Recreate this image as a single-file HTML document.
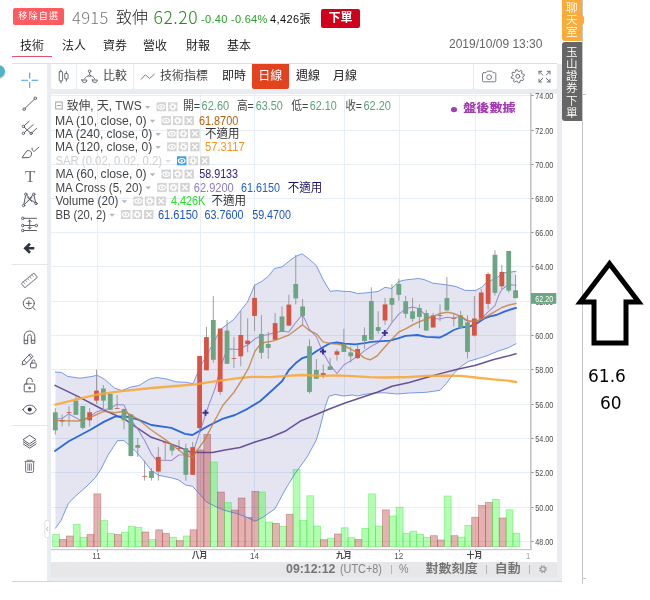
<!DOCTYPE html>
<html lang="zh-Hant"><head><meta charset="utf-8"><title>4915 致伸</title>
<style>
*{box-sizing:border-box;margin:0;padding:0}
html,body{width:650px;height:600px;background:#fff;overflow:hidden}
body{position:relative;font-family:"Liberation Sans","Noto Sans CJK TC",sans-serif;color:#333}
.abs{position:absolute;white-space:nowrap}
#root{position:absolute;left:0;top:0;width:650px;height:600px;overflow:hidden;will-change:transform;transform:translateZ(0)}
</style></head>
<body>
<div id="root">
<div class="abs" style="left:12.5px;top:8px;width:51px;height:16.5px;background:#ff5b60;border-radius:2px;color:#fff;font-size:9px;line-height:16.5px;text-align:center;letter-spacing:1.2px;padding-left:1.5px">移除自選</div>
<div class="abs" style="left:72px;top:4.5px;font-family:Noto Sans CJK TC,sans-serif;font-weight:300;font-size:16.5px;line-height:24px;color:#777;letter-spacing:0.35px">4915</div>
<div class="abs" style="left:116px;top:5.5px;font-size:16px;font-weight:300;line-height:24px;color:#222;">致伸</div>
<div class="abs" style="left:153.5px;top:4.5px;font-family:Noto Sans CJK TC,sans-serif;font-weight:300;font-size:17.5px;line-height:24px;color:#238a1a;letter-spacing:0.55px;">62.20</div>
<div class="abs" style="left:201px;top:11px;font-size:11px;line-height:16px;color:#2a9d2a;letter-spacing:0.3px;">-0.40 -0.64%</div>
<div class="abs" style="left:270px;top:11px;font-size:11px;line-height:16px;color:#111;letter-spacing:0.4px;">4,426張</div>
<div class="abs" style="left:321px;top:9px;width:39px;height:19px;background:#d0021b;border-radius:2px;color:#fff;font-size:12px;font-weight:bold;line-height:19px;text-align:center;">下單</div>
<div class="abs" style="left:20px;top:37px;font-size:12px;font-weight:350;line-height:18px;color:#111;">技術</div>
<div class="abs" style="left:62px;top:37px;font-size:12px;font-weight:350;line-height:18px;color:#111;">法人</div>
<div class="abs" style="left:103px;top:37px;font-size:12px;font-weight:350;line-height:18px;color:#111;">資券</div>
<div class="abs" style="left:143px;top:37px;font-size:12px;font-weight:350;line-height:18px;color:#111;">營收</div>
<div class="abs" style="left:186px;top:37px;font-size:12px;font-weight:350;line-height:18px;color:#111;">財報</div>
<div class="abs" style="left:227px;top:37px;font-size:12px;font-weight:350;line-height:18px;color:#111;">基本</div>
<div class="abs" style="left:12px;top:56px;width:40.3px;height:1.2px;background:#e4506a"></div>
<div class="abs" style="left:449px;top:36px;font-size:12px;line-height:16px;color:#666;">2019/10/09 13:30</div>
<div class="abs" style="left:12px;top:63px;width:545px;height:1px;background:#dcdfe3"></div>
<div class="abs" style="left:-8px;top:65px;width:13px;height:13px;border-radius:6.5px;background:#4fb3c4;box-shadow:0 1px 2px rgba(0,0,0,0.2)"></div>
<div class="abs" style="left:47px;top:64px;width:514.6px;height:517px;background:#e9edf2"></div>
<div class="abs" style="left:12px;top:581px;width:550px;height:1px;background:#d6d6d6"></div>
<div class="abs" style="left:51px;top:64px;width:25.2px;height:24.8px;background:#fff;border-radius:0 0 2px 2px"></div>
<div class="abs" style="left:77.2px;top:64px;width:55.8px;height:24.8px;background:#fff;border-radius:0 0 2px 2px"></div>
<div class="abs" style="left:134px;top:64px;width:338.6px;height:24.8px;background:#fff;border-radius:0 0 2px 2px"></div>
<div class="abs" style="left:473.6px;top:64px;width:83.4px;height:24.8px;background:#fff;border-radius:0 0 2px 2px"></div>
<div class="abs" style="left:103px;font-size:12px;line-height:24px;color:#444;top:64px;">比較</div>
<div class="abs" style="left:160px;font-size:12px;line-height:24px;color:#444;top:64px;">技術指標</div>
<div class="abs" style="left:222px;font-size:12px;line-height:24px;color:#444;top:64px;color:#222">即時</div>
<div class="abs" style="left:252px;top:64px;width:36.5px;height:24.5px;background:#e2431e;color:#fff;font-size:12px;line-height:24px;text-align:center;border-radius:0 0 2px 2px">日線</div>
<div class="abs" style="left:296px;font-size:12px;line-height:24px;color:#444;top:64px;color:#222">週線</div>
<div class="abs" style="left:333px;font-size:12px;line-height:24px;color:#444;top:64px;color:#222">月線</div>
<div class="abs" style="left:51px;top:93.6px;width:505.6px;height:468px;background:#fff"></div>
<div class="abs" style="left:51px;top:561.8px;width:505.6px;height:15px;background:#e7e7e9"></div>
<svg class="abs" style="left:51px;top:561px" width="506" height="17" viewBox="51 561 506 17" font-family="'Liberation Sans','Noto Sans CJK TC',sans-serif" font-size="12"><text x="286" y="573.4" fill="#757575" font-weight="bold" textLength="49.5" lengthAdjust="spacingAndGlyphs">09:12:12</text><text x="340" y="573.4" fill="#868686" textLength="42.0" lengthAdjust="spacingAndGlyphs">(UTC+8)</text><text x="399" y="573.4" fill="#868686" textLength="9.5" lengthAdjust="spacingAndGlyphs">%</text><text x="425.5" y="573.4" fill="#757575" font-weight="bold" textLength="52.2" lengthAdjust="spacingAndGlyphs">對數刻度</text><text x="494.7" y="573.4" fill="#757575" font-weight="bold" textLength="25.9" lengthAdjust="spacingAndGlyphs">自動</text><path d="M391.5 565V574M486.5 565V574M529.5 565V574" stroke="#b5b5b5" stroke-width="1"/></svg>
<svg class="abs" style="left:51px;top:93px" width="506" height="468" viewBox="51 93 506 468" font-family="'Liberation Sans','Noto Sans CJK TC',sans-serif">
<path d="M51 541.5H530 M51 507.5H530 M51 472.5H530 M51 438.5H530 M51 404.5H530 M51 369.5H530 M51 335.5H530 M51 301.5H530 M51 266.5H530 M51 232.5H530 M51 198.5H530 M51 164.5H530 M51 130.5H530 M51 95.5H530 M97.5 93V549 M200.5 93V549 M254.5 93V549 M344.5 93V549 M399.5 93V549 M475.5 93V549" stroke="#e6eff5" stroke-width="1" fill="none"/>
<polygon points="55.4,372 61.5,372.5 67.7,376.4 80,378.2 92.3,376.4 97.2,375.2 104.6,379.4 114.5,388 121.8,390.5 131.7,386.8 139,385.5 148.9,379.4 156.3,377.4 166.2,378.9 176,381.8 185.8,382.3 193.2,383.6 197.5,373 202.5,362.5 208.8,351.3 217.5,335 221.3,328.8 233.8,319.4 247.5,301.9 254.4,285.6 262.5,280.8 268.3,276.3 274.5,268.5 282,266.9 288.9,261.3 295.8,256.3 302,253.8 309.5,259.4 316.4,265.6 323.3,280 330.1,291.3 337,290.6 343,291.3 350,291.5 357.5,293.5 364.5,293 371.3,292.3 378.1,291.5 385,287.3 391.5,288.5 398.8,281.5 405,280 418.5,278.5 424,279.5 432.5,283.1 447.5,285 456,286.6 465,290.3 475,290.6 481.3,287.5 486.3,282.5 491.3,280.3 497.5,277.5 501.9,273.1 508.8,272.3 516,271.3 516,343.8 507.7,348 497.8,351.2 488,355.4 480.6,357.8 468.3,361.5 460.9,366.5 453.5,373.8 446.2,383.7 440,390.3 426.5,392.3 409.2,393 396.9,394 384.6,392.8 374.8,393 364,394.5 357.5,396 352.5,395 343.8,396 335,394.5 328.8,396.3 325,407.5 320,427.5 316.3,440 307.5,456.3 295,473.8 285,490 275,508.8 262.5,517.5 255,521.3 247.5,517.5 237.5,513.8 225,510.5 215,506.3 206.3,501.9 200,494.5 192.5,486.3 185.4,485 178.8,480 172.5,478.1 158.4,475.3 151.3,470.6 144.4,461.3 135,450.6 127.5,443.8 123.8,440.6 117.5,440.6 108.1,455 100.5,470 95.5,477.4 87,486 74.6,497 68.5,503.2 61,520.5 55.4,528.3" fill="#000080" fill-opacity="0.1"/>
<rect x="52.66" y="534.5" width="6.87" height="12.2" fill="#00ff00" fill-opacity="0.3" stroke="#3fe03f" stroke-opacity="0.55" stroke-width="0.7"/>
<rect x="59.53" y="539.4" width="6.87" height="7.3" fill="#aa0000" fill-opacity="0.3" stroke="#a85050" stroke-opacity="0.55" stroke-width="0.7"/>
<rect x="66.40" y="536" width="6.87" height="10.7" fill="#aa0000" fill-opacity="0.3" stroke="#a85050" stroke-opacity="0.55" stroke-width="0.7"/>
<rect x="73.27" y="524.2" width="6.87" height="22.5" fill="#00ff00" fill-opacity="0.3" stroke="#3fe03f" stroke-opacity="0.55" stroke-width="0.7"/>
<rect x="80.14" y="537.2" width="6.87" height="9.5" fill="#00ff00" fill-opacity="0.3" stroke="#3fe03f" stroke-opacity="0.55" stroke-width="0.7"/>
<rect x="87.02" y="534.5" width="6.87" height="12.2" fill="#aa0000" fill-opacity="0.3" stroke="#a85050" stroke-opacity="0.55" stroke-width="0.7"/>
<rect x="93.88" y="493.9" width="6.87" height="52.8" fill="#aa0000" fill-opacity="0.3" stroke="#a85050" stroke-opacity="0.55" stroke-width="0.7"/>
<rect x="100.75" y="520.5" width="6.87" height="26.2" fill="#00ff00" fill-opacity="0.3" stroke="#3fe03f" stroke-opacity="0.55" stroke-width="0.7"/>
<rect x="107.62" y="533.5" width="6.87" height="13.2" fill="#00ff00" fill-opacity="0.3" stroke="#3fe03f" stroke-opacity="0.55" stroke-width="0.7"/>
<rect x="114.49" y="534.5" width="6.87" height="12.2" fill="#aa0000" fill-opacity="0.3" stroke="#a85050" stroke-opacity="0.55" stroke-width="0.7"/>
<rect x="121.36" y="532.3" width="6.87" height="14.4" fill="#00ff00" fill-opacity="0.3" stroke="#3fe03f" stroke-opacity="0.55" stroke-width="0.7"/>
<rect x="128.24" y="526.6" width="6.87" height="20.1" fill="#00ff00" fill-opacity="0.3" stroke="#3fe03f" stroke-opacity="0.55" stroke-width="0.7"/>
<rect x="135.11" y="527.4" width="6.87" height="19.3" fill="#00ff00" fill-opacity="0.3" stroke="#3fe03f" stroke-opacity="0.55" stroke-width="0.7"/>
<rect x="141.98" y="532" width="6.87" height="14.7" fill="#aa0000" fill-opacity="0.3" stroke="#a85050" stroke-opacity="0.55" stroke-width="0.7"/>
<rect x="148.85" y="539.4" width="6.87" height="7.3" fill="#00ff00" fill-opacity="0.3" stroke="#3fe03f" stroke-opacity="0.55" stroke-width="0.7"/>
<rect x="155.72" y="529.8" width="6.87" height="16.9" fill="#aa0000" fill-opacity="0.3" stroke="#a85050" stroke-opacity="0.55" stroke-width="0.7"/>
<rect x="162.59" y="533.5" width="6.87" height="13.2" fill="#aa0000" fill-opacity="0.3" stroke="#a85050" stroke-opacity="0.55" stroke-width="0.7"/>
<rect x="169.46" y="537.2" width="6.87" height="9.5" fill="#00ff00" fill-opacity="0.3" stroke="#3fe03f" stroke-opacity="0.55" stroke-width="0.7"/>
<rect x="176.32" y="540.6" width="6.87" height="6.1" fill="#aa0000" fill-opacity="0.3" stroke="#a85050" stroke-opacity="0.55" stroke-width="0.7"/>
<rect x="183.19" y="536" width="6.87" height="10.7" fill="#00ff00" fill-opacity="0.3" stroke="#3fe03f" stroke-opacity="0.55" stroke-width="0.7"/>
<rect x="190.06" y="529.8" width="6.87" height="16.9" fill="#aa0000" fill-opacity="0.3" stroke="#a85050" stroke-opacity="0.55" stroke-width="0.7"/>
<rect x="196.94" y="450" width="6.87" height="96.7" fill="#aa0000" fill-opacity="0.3" stroke="#a85050" stroke-opacity="0.55" stroke-width="0.7"/>
<rect x="203.81" y="434.5" width="6.87" height="112.2" fill="#aa0000" fill-opacity="0.3" stroke="#a85050" stroke-opacity="0.55" stroke-width="0.7"/>
<rect x="210.68" y="462" width="6.87" height="84.7" fill="#00ff00" fill-opacity="0.3" stroke="#3fe03f" stroke-opacity="0.55" stroke-width="0.7"/>
<rect x="217.55" y="492" width="6.87" height="54.7" fill="#aa0000" fill-opacity="0.3" stroke="#a85050" stroke-opacity="0.55" stroke-width="0.7"/>
<rect x="224.42" y="502.5" width="6.87" height="44.2" fill="#00ff00" fill-opacity="0.3" stroke="#3fe03f" stroke-opacity="0.55" stroke-width="0.7"/>
<rect x="231.29" y="510" width="6.87" height="36.7" fill="#aa0000" fill-opacity="0.3" stroke="#a85050" stroke-opacity="0.55" stroke-width="0.7"/>
<rect x="238.16" y="498" width="6.87" height="48.7" fill="#aa0000" fill-opacity="0.3" stroke="#a85050" stroke-opacity="0.55" stroke-width="0.7"/>
<rect x="245.03" y="517.5" width="6.87" height="29.2" fill="#aa0000" fill-opacity="0.3" stroke="#a85050" stroke-opacity="0.55" stroke-width="0.7"/>
<rect x="251.89" y="491.3" width="6.87" height="55.4" fill="#aa0000" fill-opacity="0.3" stroke="#a85050" stroke-opacity="0.55" stroke-width="0.7"/>
<rect x="258.76" y="492" width="6.87" height="54.7" fill="#00ff00" fill-opacity="0.3" stroke="#3fe03f" stroke-opacity="0.55" stroke-width="0.7"/>
<rect x="265.63" y="522" width="6.87" height="24.7" fill="#00ff00" fill-opacity="0.3" stroke="#3fe03f" stroke-opacity="0.55" stroke-width="0.7"/>
<rect x="272.50" y="523.3" width="6.87" height="23.4" fill="#aa0000" fill-opacity="0.3" stroke="#a85050" stroke-opacity="0.55" stroke-width="0.7"/>
<rect x="279.38" y="526.3" width="6.87" height="20.4" fill="#00ff00" fill-opacity="0.3" stroke="#3fe03f" stroke-opacity="0.55" stroke-width="0.7"/>
<rect x="286.25" y="514.3" width="6.87" height="32.4" fill="#aa0000" fill-opacity="0.3" stroke="#a85050" stroke-opacity="0.55" stroke-width="0.7"/>
<rect x="293.12" y="469.3" width="6.87" height="77.4" fill="#00ff00" fill-opacity="0.3" stroke="#3fe03f" stroke-opacity="0.55" stroke-width="0.7"/>
<rect x="299.99" y="520.5" width="6.87" height="26.2" fill="#00ff00" fill-opacity="0.3" stroke="#3fe03f" stroke-opacity="0.55" stroke-width="0.7"/>
<rect x="306.86" y="495.8" width="6.87" height="50.9" fill="#00ff00" fill-opacity="0.3" stroke="#3fe03f" stroke-opacity="0.55" stroke-width="0.7"/>
<rect x="313.73" y="526.1" width="6.87" height="20.6" fill="#00ff00" fill-opacity="0.3" stroke="#3fe03f" stroke-opacity="0.55" stroke-width="0.7"/>
<rect x="320.60" y="539.7" width="6.87" height="7.0" fill="#aa0000" fill-opacity="0.3" stroke="#a85050" stroke-opacity="0.55" stroke-width="0.7"/>
<rect x="327.47" y="538.2" width="6.87" height="8.5" fill="#00ff00" fill-opacity="0.3" stroke="#3fe03f" stroke-opacity="0.55" stroke-width="0.7"/>
<rect x="334.34" y="534" width="6.87" height="12.7" fill="#aa0000" fill-opacity="0.3" stroke="#a85050" stroke-opacity="0.55" stroke-width="0.7"/>
<rect x="341.21" y="527.8" width="6.87" height="18.9" fill="#00ff00" fill-opacity="0.3" stroke="#3fe03f" stroke-opacity="0.55" stroke-width="0.7"/>
<rect x="348.08" y="537.7" width="6.87" height="9.0" fill="#00ff00" fill-opacity="0.3" stroke="#3fe03f" stroke-opacity="0.55" stroke-width="0.7"/>
<rect x="354.95" y="539.4" width="6.87" height="7.3" fill="#aa0000" fill-opacity="0.3" stroke="#a85050" stroke-opacity="0.55" stroke-width="0.7"/>
<rect x="361.81" y="528.3" width="6.87" height="18.4" fill="#00ff00" fill-opacity="0.3" stroke="#3fe03f" stroke-opacity="0.55" stroke-width="0.7"/>
<rect x="368.69" y="493.9" width="6.87" height="52.8" fill="#00ff00" fill-opacity="0.3" stroke="#3fe03f" stroke-opacity="0.55" stroke-width="0.7"/>
<rect x="375.56" y="526.1" width="6.87" height="20.6" fill="#00ff00" fill-opacity="0.3" stroke="#3fe03f" stroke-opacity="0.55" stroke-width="0.7"/>
<rect x="382.43" y="509.9" width="6.87" height="36.8" fill="#aa0000" fill-opacity="0.3" stroke="#a85050" stroke-opacity="0.55" stroke-width="0.7"/>
<rect x="389.30" y="516" width="6.87" height="30.7" fill="#00ff00" fill-opacity="0.3" stroke="#3fe03f" stroke-opacity="0.55" stroke-width="0.7"/>
<rect x="396.17" y="507.2" width="6.87" height="39.5" fill="#00ff00" fill-opacity="0.3" stroke="#3fe03f" stroke-opacity="0.55" stroke-width="0.7"/>
<rect x="403.04" y="533.2" width="6.87" height="13.5" fill="#00ff00" fill-opacity="0.3" stroke="#3fe03f" stroke-opacity="0.55" stroke-width="0.7"/>
<rect x="409.91" y="531.2" width="6.87" height="15.5" fill="#00ff00" fill-opacity="0.3" stroke="#3fe03f" stroke-opacity="0.55" stroke-width="0.7"/>
<rect x="416.78" y="534.3" width="6.87" height="12.4" fill="#00ff00" fill-opacity="0.3" stroke="#3fe03f" stroke-opacity="0.55" stroke-width="0.7"/>
<rect x="423.65" y="537.2" width="6.87" height="9.5" fill="#00ff00" fill-opacity="0.3" stroke="#3fe03f" stroke-opacity="0.55" stroke-width="0.7"/>
<rect x="430.52" y="535.7" width="6.87" height="11.0" fill="#aa0000" fill-opacity="0.3" stroke="#a85050" stroke-opacity="0.55" stroke-width="0.7"/>
<rect x="437.39" y="540" width="6.87" height="6.7" fill="#aa0000" fill-opacity="0.3" stroke="#a85050" stroke-opacity="0.55" stroke-width="0.7"/>
<rect x="444.26" y="496" width="6.87" height="50.7" fill="#00ff00" fill-opacity="0.3" stroke="#3fe03f" stroke-opacity="0.55" stroke-width="0.7"/>
<rect x="451.12" y="535.7" width="6.87" height="11.0" fill="#aa0000" fill-opacity="0.3" stroke="#a85050" stroke-opacity="0.55" stroke-width="0.7"/>
<rect x="458.00" y="537.2" width="6.87" height="9.5" fill="#00ff00" fill-opacity="0.3" stroke="#3fe03f" stroke-opacity="0.55" stroke-width="0.7"/>
<rect x="464.87" y="525.4" width="6.87" height="21.3" fill="#00ff00" fill-opacity="0.3" stroke="#3fe03f" stroke-opacity="0.55" stroke-width="0.7"/>
<rect x="471.74" y="517.2" width="6.87" height="29.5" fill="#aa0000" fill-opacity="0.3" stroke="#a85050" stroke-opacity="0.55" stroke-width="0.7"/>
<rect x="478.61" y="505.4" width="6.87" height="41.3" fill="#aa0000" fill-opacity="0.3" stroke="#a85050" stroke-opacity="0.55" stroke-width="0.7"/>
<rect x="485.48" y="502.5" width="6.87" height="44.2" fill="#aa0000" fill-opacity="0.3" stroke="#a85050" stroke-opacity="0.55" stroke-width="0.7"/>
<rect x="492.35" y="499.3" width="6.87" height="47.4" fill="#00ff00" fill-opacity="0.3" stroke="#3fe03f" stroke-opacity="0.55" stroke-width="0.7"/>
<rect x="499.22" y="518" width="6.87" height="28.7" fill="#aa0000" fill-opacity="0.3" stroke="#a85050" stroke-opacity="0.55" stroke-width="0.7"/>
<rect x="506.09" y="509.8" width="6.87" height="36.9" fill="#00ff00" fill-opacity="0.3" stroke="#3fe03f" stroke-opacity="0.55" stroke-width="0.7"/>
<rect x="512.96" y="533.2" width="6.87" height="13.5" fill="#00ff00" fill-opacity="0.3" stroke="#3fe03f" stroke-opacity="0.55" stroke-width="0.7"/>
<polyline points="55.4,372 61.5,372.5 67.7,376.4 80,378.2 92.3,376.4 97.2,375.2 104.6,379.4 114.5,388 121.8,390.5 131.7,386.8 139,385.5 148.9,379.4 156.3,377.4 166.2,378.9 176,381.8 185.8,382.3 193.2,383.6 197.5,373 202.5,362.5 208.8,351.3 217.5,335 221.3,328.8 233.8,319.4 247.5,301.9 254.4,285.6 262.5,280.8 268.3,276.3 274.5,268.5 282,266.9 288.9,261.3 295.8,256.3 302,253.8 309.5,259.4 316.4,265.6 323.3,280 330.1,291.3 337,290.6 343,291.3 350,291.5 357.5,293.5 364.5,293 371.3,292.3 378.1,291.5 385,287.3 391.5,288.5 398.8,281.5 405,280 418.5,278.5 424,279.5 432.5,283.1 447.5,285 456,286.6 465,290.3 475,290.6 481.3,287.5 486.3,282.5 491.3,280.3 497.5,277.5 501.9,273.1 508.8,272.3 516,271.3" fill="none" stroke="#3c6fd8" stroke-width="0.8" stroke-linejoin="round" stroke-linecap="round" stroke-opacity="0.85"/>
<polyline points="55.4,528.3 61,520.5 68.5,503.2 74.6,497 87,486 95.5,477.4 100.5,470 108.1,455 117.5,440.6 123.8,440.6 127.5,443.8 135,450.6 144.4,461.3 151.3,470.6 158.4,475.3 172.5,478.1 178.8,480 185.4,485 192.5,486.3 200,494.5 206.3,501.9 215,506.3 225,510.5 237.5,513.8 247.5,517.5 255,521.3 262.5,517.5 275,508.8 285,490 295,473.8 307.5,456.3 316.3,440 320,427.5 325,407.5 328.8,396.3 335,394.5 343.8,396 352.5,395 357.5,396 364,394.5 374.8,393 384.6,392.8 396.9,394 409.2,393 426.5,392.3 440,390.3 446.2,383.7 453.5,373.8 460.9,366.5 468.3,361.5 480.6,357.8 488,355.4 497.8,351.2 507.7,348 516,343.8" fill="none" stroke="#3c6fd8" stroke-width="0.8" stroke-linejoin="round" stroke-linecap="round" stroke-opacity="0.85"/>
<polyline points="55,385.3 78.8,396.9 103.8,410 125,419.4 137.5,428.1 151.3,437.3 165,441.9 178.8,446.9 190,451.9 200,452.5 212.5,452.5 225,450 240,447.5 255,442 270,437.5 285,431.3 300,421.3 315,415 330,408.8 345,403 360,398 377.2,392.3 392,386.2 409.2,382.5 426.5,377.5 441.2,373.4 458.5,368.9 475.7,365.2 492.9,359.8 507.7,356.1 516,353.7" fill="none" stroke="#5d4490" stroke-width="1.5" stroke-linejoin="round" stroke-linecap="round" stroke-opacity="0.92"/>
<polyline points="57.8,418.8 61.9,418.8 68.5,413.8 78.8,419.4 82.5,420.6 91,415.6 96.5,411.9 103.5,409.4 110,408.8 116.5,404.4 124,405 130.6,419.4 137.5,428.8 144.4,440 151.3,453.8 156.3,460 171.3,460.6 178.8,455 185,454.8 192.5,453.8 199.6,432.5 205,416.3 208.8,405 215,388.8 220.4,367.5 226.3,351.3 230,349 237.5,349.4 242.5,347.5 247.5,345 255,338.8 261.3,335.8 268.3,334.4 274.9,332.5 282,331.3 288.9,331.9 295.8,322.5 301.4,315.6 303.3,316.3 309.5,329.4 316.4,336.9 323,352.5 330.4,365.6 337,373.5 343.8,365 351,360.6 357.5,356.3 364.6,350.6 371.3,346.3 378.4,342.5 385.3,332.5 391.5,323.1 399.1,313.8 405.6,308.8 412.5,306.9 419.4,308.8 426.4,316.3 433.4,318.5 439.6,319 447.3,317.3 453.8,318.1 460.6,316.3 465,320 470,321.5 476,321.2 481.5,318.8 488.1,311.8 495,305.6 498.8,295 501.9,289.4 506.3,286.3 510,284.8 516,285.3" fill="none" stroke="#9c85d2" stroke-width="1.05" stroke-linejoin="round" stroke-linecap="round" stroke-opacity="0.95"/>
<polyline points="55,451 68.8,441.3 90,430 103.8,421.9 115,416.6 125,416.3 137.5,419.4 151.3,425 171.3,427.8 185,433.8 192.5,435 200,430.6 210,425 222.5,418.8 235,415 247.5,408.8 260,401.3 272.5,390 282,381.3 288.9,370 295.8,363.1 302.4,358.1 309.5,356 316.4,351.3 323,347.2 330.1,343.3 337,342.5 345,343.6 355,344.4 364.6,343.2 371.3,341.9 390,340.6 398.8,338.1 405.6,335.8 417.5,335 426.3,336.9 440,337.5 447.3,333.8 453.8,330 460.6,327.5 470,326.3 477.5,323.1 485,318.1 490,316.3 496.3,315 505,311.3 516,307.8" fill="none" stroke="#2562d8" stroke-width="1.85" stroke-linejoin="round" stroke-linecap="round" stroke-opacity="0.95"/>
<path d="M202.5 412.7H208.5M205.5 409.7V415.7" stroke="#3d2ea0" stroke-width="1.9"/>
<path d="M320 351.5H326M323 348.5V354.5" stroke="#3d2ea0" stroke-width="1.9"/>
<path d="M381.8 332.9H387.8M384.8 329.9V335.9" stroke="#3d2ea0" stroke-width="1.9"/>
<path d="M55.30 408.1V434.8" stroke="#8e8e90" stroke-width="0.85"/>
<rect x="52.90" y="412.3" width="4.8" height="18.0" fill="#6ba583"/>
<path d="M62.17 414.4V426.3" stroke="#8e8e90" stroke-width="0.85"/>
<rect x="59.77" y="420" width="4.8" height="1.5" fill="#d75442"/>
<path d="M69.04 406V426.3" stroke="#8e8e90" stroke-width="0.85"/>
<rect x="66.64" y="412.1" width="4.8" height="0.8" fill="#d75442"/>
<path d="M75.91 396.3V415" stroke="#8e8e90" stroke-width="0.85"/>
<rect x="73.51" y="400.6" width="4.8" height="14.2" fill="#6ba583"/>
<path d="M82.78 406V429.4" stroke="#8e8e90" stroke-width="0.85"/>
<rect x="80.38" y="406" width="4.8" height="21.9" fill="#6ba583"/>
<path d="M89.65 408V426.3" stroke="#8e8e90" stroke-width="0.85"/>
<rect x="87.25" y="412.3" width="4.8" height="8.0" fill="#d75442"/>
<path d="M96.52 369.5V403.8" stroke="#8e8e90" stroke-width="0.85"/>
<rect x="94.12" y="390.6" width="4.8" height="10.0" fill="#d75442"/>
<path d="M103.39 385V410.6" stroke="#8e8e90" stroke-width="0.85"/>
<rect x="100.99" y="388.5" width="4.8" height="12.1" fill="#6ba583"/>
<path d="M110.26 393.8V410" stroke="#8e8e90" stroke-width="0.85"/>
<rect x="107.86" y="394" width="4.8" height="15.8" fill="#6ba583"/>
<path d="M117.13 395V408.8" stroke="#8e8e90" stroke-width="0.85"/>
<rect x="114.73" y="408.1" width="4.8" height="0.8" fill="#d75442"/>
<path d="M124.00 408.5V429.4" stroke="#8e8e90" stroke-width="0.85"/>
<rect x="121.60" y="409" width="4.8" height="11.3" fill="#6ba583"/>
<path d="M130.87 414.4V456.5" stroke="#8e8e90" stroke-width="0.85"/>
<rect x="128.47" y="414.4" width="4.8" height="41.6" fill="#6ba583"/>
<path d="M137.74 438.1V456.9" stroke="#8e8e90" stroke-width="0.85"/>
<rect x="135.34" y="445" width="4.8" height="2.8" fill="#6ba583"/>
<path d="M144.61 460.6V480.6" stroke="#8e8e90" stroke-width="0.85"/>
<rect x="142.21" y="475.9" width="4.8" height="0.8" fill="#d75442"/>
<path d="M151.48 468.1V480.6" stroke="#8e8e90" stroke-width="0.85"/>
<rect x="149.08" y="471" width="4.8" height="6.9" fill="#6ba583"/>
<path d="M158.35 446.9V480.6" stroke="#8e8e90" stroke-width="0.85"/>
<rect x="155.95" y="456.9" width="4.8" height="14.7" fill="#d75442"/>
<path d="M165.22 442.3V460" stroke="#8e8e90" stroke-width="0.85"/>
<rect x="162.82" y="442.3" width="4.8" height="0.8" fill="#d75442"/>
<path d="M172.09 444.4V455.6" stroke="#8e8e90" stroke-width="0.85"/>
<rect x="169.69" y="445" width="4.8" height="5.6" fill="#6ba583"/>
<path d="M178.96 440V451.3" stroke="#8e8e90" stroke-width="0.85"/>
<rect x="176.56" y="448" width="4.8" height="0.8" fill="#d75442"/>
<path d="M185.83 443.8V480.6" stroke="#8e8e90" stroke-width="0.85"/>
<rect x="183.43" y="448.1" width="4.8" height="26.7" fill="#6ba583"/>
<path d="M192.70 441.9V474.8" stroke="#8e8e90" stroke-width="0.85"/>
<rect x="190.30" y="447.1" width="4.8" height="27.7" fill="#d75442"/>
<path d="M199.57 356V432.5" stroke="#8e8e90" stroke-width="0.85"/>
<rect x="197.17" y="356" width="4.8" height="72.1" fill="#d75442"/>
<path d="M206.44 326.9V370.3" stroke="#8e8e90" stroke-width="0.85"/>
<rect x="204.04" y="337.1" width="4.8" height="33.2" fill="#d75442"/>
<path d="M213.31 296V362.8" stroke="#8e8e90" stroke-width="0.85"/>
<rect x="210.91" y="320" width="4.8" height="39.8" fill="#6ba583"/>
<path d="M220.18 328.5V394.8" stroke="#8e8e90" stroke-width="0.85"/>
<rect x="217.78" y="328.5" width="4.8" height="63.4" fill="#d75442"/>
<path d="M227.05 320V363.8" stroke="#8e8e90" stroke-width="0.85"/>
<rect x="224.65" y="330.6" width="4.8" height="33.2" fill="#6ba583"/>
<path d="M233.92 336.9V367.8" stroke="#8e8e90" stroke-width="0.85"/>
<rect x="231.52" y="358.1" width="4.8" height="0.8" fill="#d75442"/>
<path d="M240.79 311.3V366.3" stroke="#8e8e90" stroke-width="0.85"/>
<rect x="238.39" y="335" width="4.8" height="21.3" fill="#d75442"/>
<path d="M247.66 318.4V352.3" stroke="#8e8e90" stroke-width="0.85"/>
<rect x="245.26" y="340.6" width="4.8" height="3.5" fill="#d75442"/>
<path d="M254.53 284.4V331" stroke="#8e8e90" stroke-width="0.85"/>
<rect x="252.13" y="297.9" width="4.8" height="18.0" fill="#d75442"/>
<path d="M261.40 315V358.8" stroke="#8e8e90" stroke-width="0.85"/>
<rect x="259.00" y="334" width="4.8" height="18.8" fill="#6ba583"/>
<path d="M268.27 331.9V358.8" stroke="#8e8e90" stroke-width="0.85"/>
<rect x="265.87" y="344" width="4.8" height="3.8" fill="#6ba583"/>
<path d="M275.14 313.1V339.8" stroke="#8e8e90" stroke-width="0.85"/>
<rect x="272.74" y="323.1" width="4.8" height="16.7" fill="#d75442"/>
<path d="M282.01 306.3V332" stroke="#8e8e90" stroke-width="0.85"/>
<rect x="279.61" y="316.5" width="4.8" height="15.4" fill="#6ba583"/>
<path d="M288.88 294.8V325.6" stroke="#8e8e90" stroke-width="0.85"/>
<rect x="286.48" y="304.6" width="4.8" height="21.0" fill="#d75442"/>
<path d="M295.75 254.9V304.4" stroke="#8e8e90" stroke-width="0.85"/>
<rect x="293.35" y="284" width="4.8" height="14.4" fill="#6ba583"/>
<path d="M302.62 299V324.4" stroke="#8e8e90" stroke-width="0.85"/>
<rect x="300.22" y="306.5" width="4.8" height="9.4" fill="#6ba583"/>
<path d="M309.49 339.4V393.5" stroke="#8e8e90" stroke-width="0.85"/>
<rect x="307.09" y="346.2" width="4.8" height="45.7" fill="#6ba583"/>
<path d="M316.36 359V378.8" stroke="#8e8e90" stroke-width="0.85"/>
<rect x="313.96" y="370" width="4.8" height="8.8" fill="#6ba583"/>
<path d="M323.23 364.4V378.1" stroke="#8e8e90" stroke-width="0.85"/>
<rect x="320.83" y="373.1" width="4.8" height="2.4" fill="#d75442"/>
<path d="M330.10 358.1V370" stroke="#8e8e90" stroke-width="0.85"/>
<rect x="327.70" y="366.4" width="4.8" height="3.6" fill="#6ba583"/>
<path d="M336.97 349V360.6" stroke="#8e8e90" stroke-width="0.85"/>
<rect x="334.57" y="351.3" width="4.8" height="3.5" fill="#d75442"/>
<path d="M343.84 328.8V352" stroke="#8e8e90" stroke-width="0.85"/>
<rect x="341.44" y="344" width="4.8" height="7.9" fill="#6ba583"/>
<path d="M350.71 346.3V362.5" stroke="#8e8e90" stroke-width="0.85"/>
<rect x="348.31" y="352.4" width="4.8" height="3.9" fill="#6ba583"/>
<path d="M357.58 344.4V358.8" stroke="#8e8e90" stroke-width="0.85"/>
<rect x="355.18" y="349" width="4.8" height="9.1" fill="#d75442"/>
<path d="M364.45 327.3V348.8" stroke="#8e8e90" stroke-width="0.85"/>
<rect x="362.05" y="335" width="4.8" height="5.9" fill="#6ba583"/>
<path d="M371.32 287.3V339.8" stroke="#8e8e90" stroke-width="0.85"/>
<rect x="368.92" y="301" width="4.8" height="38.8" fill="#6ba583"/>
<path d="M378.19 311.3V333.8" stroke="#8e8e90" stroke-width="0.85"/>
<rect x="375.79" y="327.1" width="4.8" height="3.8" fill="#6ba583"/>
<path d="M385.06 298.1V324.8" stroke="#8e8e90" stroke-width="0.85"/>
<rect x="382.66" y="304.4" width="4.8" height="16.0" fill="#d75442"/>
<path d="M391.93 284V321.9" stroke="#8e8e90" stroke-width="0.85"/>
<rect x="389.53" y="298.1" width="4.8" height="6.7" fill="#6ba583"/>
<path d="M398.80 278.8V300.6" stroke="#8e8e90" stroke-width="0.85"/>
<rect x="396.40" y="284" width="4.8" height="10.8" fill="#6ba583"/>
<path d="M405.67 296V318.1" stroke="#8e8e90" stroke-width="0.85"/>
<rect x="403.27" y="301.3" width="4.8" height="12.5" fill="#6ba583"/>
<path d="M412.54 298.1V321.9" stroke="#8e8e90" stroke-width="0.85"/>
<rect x="410.14" y="311.3" width="4.8" height="7.5" fill="#6ba583"/>
<path d="M419.41 304.4V328.1" stroke="#8e8e90" stroke-width="0.85"/>
<rect x="417.01" y="308.1" width="4.8" height="8.8" fill="#6ba583"/>
<path d="M426.28 310V330.6" stroke="#8e8e90" stroke-width="0.85"/>
<rect x="423.88" y="313.1" width="4.8" height="17.5" fill="#6ba583"/>
<path d="M433.15 313.1V327.5" stroke="#8e8e90" stroke-width="0.85"/>
<rect x="430.75" y="315.3" width="4.8" height="12.2" fill="#d75442"/>
<path d="M440.02 304.4V321.3" stroke="#8e8e90" stroke-width="0.85"/>
<rect x="437.62" y="315.3" width="4.8" height="0.8" fill="#d75442"/>
<path d="M446.89 277.1V310.6" stroke="#8e8e90" stroke-width="0.85"/>
<rect x="444.49" y="298.1" width="4.8" height="12.3" fill="#6ba583"/>
<path d="M453.76 313.8V326.5" stroke="#8e8e90" stroke-width="0.85"/>
<rect x="451.36" y="318.1" width="4.8" height="0.8" fill="#d75442"/>
<path d="M460.63 311V328.1" stroke="#8e8e90" stroke-width="0.85"/>
<rect x="458.23" y="315.3" width="4.8" height="12.8" fill="#6ba583"/>
<path d="M467.50 315.3V358.5" stroke="#8e8e90" stroke-width="0.85"/>
<rect x="465.10" y="322.3" width="4.8" height="29.6" fill="#6ba583"/>
<path d="M474.37 296V336.5" stroke="#8e8e90" stroke-width="0.85"/>
<rect x="471.97" y="318.5" width="4.8" height="17.1" fill="#d75442"/>
<path d="M481.24 289V318.8" stroke="#8e8e90" stroke-width="0.85"/>
<rect x="478.84" y="292.5" width="4.8" height="26.3" fill="#d75442"/>
<path d="M488.11 272.3V309.4" stroke="#8e8e90" stroke-width="0.85"/>
<rect x="485.71" y="274" width="4.8" height="29.8" fill="#d75442"/>
<path d="M494.98 250.3V295.6" stroke="#8e8e90" stroke-width="0.85"/>
<rect x="492.58" y="254.8" width="4.8" height="38.0" fill="#6ba583"/>
<path d="M501.85 265V289.4" stroke="#8e8e90" stroke-width="0.85"/>
<rect x="499.45" y="271.9" width="4.8" height="14.4" fill="#d75442"/>
<path d="M508.72 251V292.5" stroke="#8e8e90" stroke-width="0.85"/>
<rect x="506.32" y="251" width="4.8" height="39.6" fill="#6ba583"/>
<path d="M515.59 275V298.5" stroke="#8e8e90" stroke-width="0.85"/>
<rect x="513.19" y="290.3" width="4.8" height="7.8" fill="#6ba583"/>
<polyline points="55.4,404.6 78.8,398.8 97.2,394.5 121.8,391.2 151.4,388 176,386 195.7,384.3 208,382.3 220,380.6 240,377.8 252.5,376.9 270,377.2 287,375.8 302,375 321.3,375.8 336.3,375.4 352.5,376.2 370,377.2 384.6,377.5 409.2,377 426.5,375.8 446.2,375.6 460.9,375.8 475.7,377.5 492.9,379.3 507.7,380.7 516,382" fill="none" stroke="#f7a738" stroke-width="2.3" stroke-linejoin="round" stroke-linecap="round" stroke-opacity="0.88"/>
<polyline points="55,420.6 78.8,421 90,417.5 103.8,411.3 115,412.8 123.8,411.3 130,414.5 137.5,418.8 151.3,430 165,439.4 178.8,450 185,455 192.5,457.5 197.5,450 205,439.4 215,420 223.1,405 233.8,392.5 242.5,378.8 248.8,367.5 255,351.3 261.3,343 270,341.5 274.5,340.6 288.9,335 302.4,324.8 309.5,330.6 316.4,333.8 323,341.9 330.1,343.5 337,344 344,345.5 351,349.4 357.5,352.5 364.6,358.1 370,359.8 377,356 384,348 390,341.3 398.8,332 405.6,328.8 412.5,325 419.4,321.7 433.4,316.3 440,313.5 447.3,312.3 453.8,313.5 460.6,316.3 467.8,320.6 474.6,321.5 481.5,319.4 490,314.5 501.9,307.5 508.8,305 516,303.5" fill="none" stroke="#c17f3e" stroke-width="1.45" stroke-linejoin="round" stroke-linecap="round" stroke-opacity="0.8"/>
<rect x="530" y="93" width="1.6" height="457" fill="#c4c4c4"/>
<rect x="51" y="549" width="481" height="1.2" fill="#c8c8c8"/>
<path d="M531.5 541.5H533.5" stroke="#888" stroke-width="1"/>
<text x="535.2" y="545.2" font-size="8.6" fill="#4a4a4a" textLength="18" lengthAdjust="spacingAndGlyphs">48.00</text>
<path d="M531.5 507.5H533.5" stroke="#888" stroke-width="1"/>
<text x="535.2" y="511.2" font-size="8.6" fill="#4a4a4a" textLength="18" lengthAdjust="spacingAndGlyphs">50.00</text>
<path d="M531.5 472.5H533.5" stroke="#888" stroke-width="1"/>
<text x="535.2" y="476.2" font-size="8.6" fill="#4a4a4a" textLength="18" lengthAdjust="spacingAndGlyphs">52.00</text>
<path d="M531.5 438.5H533.5" stroke="#888" stroke-width="1"/>
<text x="535.2" y="442.2" font-size="8.6" fill="#4a4a4a" textLength="18" lengthAdjust="spacingAndGlyphs">54.00</text>
<path d="M531.5 404.5H533.5" stroke="#888" stroke-width="1"/>
<text x="535.2" y="408.2" font-size="8.6" fill="#4a4a4a" textLength="18" lengthAdjust="spacingAndGlyphs">56.00</text>
<path d="M531.5 369.5H533.5" stroke="#888" stroke-width="1"/>
<text x="535.2" y="373.2" font-size="8.6" fill="#4a4a4a" textLength="18" lengthAdjust="spacingAndGlyphs">58.00</text>
<path d="M531.5 335.5H533.5" stroke="#888" stroke-width="1"/>
<text x="535.2" y="339.2" font-size="8.6" fill="#4a4a4a" textLength="18" lengthAdjust="spacingAndGlyphs">60.00</text>
<path d="M531.5 301.5H533.5" stroke="#888" stroke-width="1"/>
<text x="535.2" y="305.2" font-size="8.6" fill="#4a4a4a" textLength="18" lengthAdjust="spacingAndGlyphs">62.00</text>
<path d="M531.5 266.5H533.5" stroke="#888" stroke-width="1"/>
<text x="535.2" y="270.2" font-size="8.6" fill="#4a4a4a" textLength="18" lengthAdjust="spacingAndGlyphs">64.00</text>
<path d="M531.5 232.5H533.5" stroke="#888" stroke-width="1"/>
<text x="535.2" y="236.2" font-size="8.6" fill="#4a4a4a" textLength="18" lengthAdjust="spacingAndGlyphs">66.00</text>
<path d="M531.5 198.5H533.5" stroke="#888" stroke-width="1"/>
<text x="535.2" y="202.2" font-size="8.6" fill="#4a4a4a" textLength="18" lengthAdjust="spacingAndGlyphs">68.00</text>
<path d="M531.5 164.5H533.5" stroke="#888" stroke-width="1"/>
<text x="535.2" y="168.2" font-size="8.6" fill="#4a4a4a" textLength="18" lengthAdjust="spacingAndGlyphs">70.00</text>
<path d="M531.5 130.5H533.5" stroke="#888" stroke-width="1"/>
<text x="535.2" y="134.2" font-size="8.6" fill="#4a4a4a" textLength="18" lengthAdjust="spacingAndGlyphs">72.00</text>
<path d="M531.5 95.5H533.5" stroke="#888" stroke-width="1"/>
<text x="535.2" y="99.2" font-size="8.6" fill="#4a4a4a" textLength="18" lengthAdjust="spacingAndGlyphs">74.00</text>
<rect x="531" y="293" width="25.3" height="10.8" fill="#6ba583"/>
<text x="535.2" y="301.5" font-size="8.6" fill="#fff" textLength="18" lengthAdjust="spacingAndGlyphs">62.20</text>
<text x="96.5" y="559.3" font-size="8.2" fill="#555" text-anchor="middle">11</text>
<text x="254.5" y="559.3" font-size="8.2" fill="#555" text-anchor="middle">14</text>
<text x="398.8" y="559.3" font-size="8.2" fill="#555" text-anchor="middle">12</text>
<text x="199.6" y="558.4" font-size="7.9" font-weight="bold" fill="#444" text-anchor="middle">八月</text>
<text x="343.8" y="558.4" font-size="7.9" font-weight="bold" fill="#444" text-anchor="middle">九月</text>
<text x="474.4" y="558.4" font-size="7.9" font-weight="bold" fill="#444" text-anchor="middle">十月</text>
<text x="528" y="558.5" font-size="8.5" fill="#aaa" text-anchor="middle">1</text>
<path d="M97.5 550V551.6" stroke="#777" stroke-width="1"/>
<path d="M200.5 550V551.6" stroke="#777" stroke-width="1"/>
<path d="M254.5 550V551.6" stroke="#777" stroke-width="1"/>
<path d="M344.5 550V551.6" stroke="#777" stroke-width="1"/>
<path d="M399.5 550V551.6" stroke="#777" stroke-width="1"/>
<path d="M475.5 550V551.6" stroke="#777" stroke-width="1"/>
<text x="66.7" y="109.7" font-size="12" fill="#444" textLength="74.9" lengthAdjust="spacingAndGlyphs" >致伸, 天, TWS</text>
<path d="M144.79999999999998 106.0h5.6l-2.8 3z" fill="#b8b8b8"/>
<rect x="156.6" y="102.3" width="9.4" height="9" fill="#d3d3d3"/><ellipse cx="161.3" cy="106.8" rx="3.3" ry="2.3" fill="none" stroke="#fff" stroke-width="1.15"/><circle cx="161.3" cy="106.8" r="1.15" fill="#fff"/>
<rect x="168.1" y="102.3" width="9.4" height="9" fill="#d3d3d3"/><circle cx="172.8" cy="106.8" r="3.05" fill="none" stroke="#fff" stroke-width="1.5" stroke-dasharray="1.35 1.045"/><circle cx="172.8" cy="106.8" r="2.1" fill="none" stroke="#fff" stroke-width="1.3"/>
<text x="55" y="124.8" font-size="12" fill="#444" textLength="91.5" lengthAdjust="spacingAndGlyphs" >MA (10, close, 0)</text>
<path d="M149.7 119.8h5.6l-2.8 3z" fill="#b8b8b8"/>
<rect x="161.5" y="116.1" width="9.4" height="9" fill="#d3d3d3"/><ellipse cx="166.2" cy="120.6" rx="3.3" ry="2.3" fill="none" stroke="#fff" stroke-width="1.15"/><circle cx="166.2" cy="120.6" r="1.15" fill="#fff"/>
<rect x="173.0" y="116.1" width="9.4" height="9" fill="#d3d3d3"/><circle cx="177.7" cy="120.6" r="3.05" fill="none" stroke="#fff" stroke-width="1.5" stroke-dasharray="1.35 1.045"/><circle cx="177.7" cy="120.6" r="2.1" fill="none" stroke="#fff" stroke-width="1.3"/>
<rect x="184.5" y="116.1" width="9.4" height="9" fill="#d3d3d3"/><path d="M186.6 118.0L191.8 123.19999999999999M191.8 118.0L186.6 123.19999999999999" stroke="#fff" stroke-width="1.4"/>
<text x="55" y="137.9" font-size="12" fill="#444" textLength="97.2" lengthAdjust="spacingAndGlyphs" >MA (240, close, 0)</text>
<path d="M155.39999999999998 132.89999999999998h5.6l-2.8 3z" fill="#b8b8b8"/>
<rect x="167.2" y="129.2" width="9.4" height="9" fill="#d3d3d3"/><ellipse cx="171.9" cy="133.7" rx="3.3" ry="2.3" fill="none" stroke="#fff" stroke-width="1.15"/><circle cx="171.9" cy="133.7" r="1.15" fill="#fff"/>
<rect x="178.7" y="129.2" width="9.4" height="9" fill="#d3d3d3"/><circle cx="183.4" cy="133.7" r="3.05" fill="none" stroke="#fff" stroke-width="1.5" stroke-dasharray="1.35 1.045"/><circle cx="183.4" cy="133.7" r="2.1" fill="none" stroke="#fff" stroke-width="1.3"/>
<rect x="190.2" y="129.2" width="9.4" height="9" fill="#d3d3d3"/><path d="M192.29999999999998 131.1L197.5 136.29999999999998M197.5 131.1L192.29999999999998 136.29999999999998" stroke="#fff" stroke-width="1.4"/>
<text x="55" y="151.0" font-size="12" fill="#444" textLength="97.2" lengthAdjust="spacingAndGlyphs" >MA (120, close, 0)</text>
<path d="M155.39999999999998 146.0h5.6l-2.8 3z" fill="#b8b8b8"/>
<rect x="167.2" y="142.3" width="9.4" height="9" fill="#d3d3d3"/><ellipse cx="171.9" cy="146.8" rx="3.3" ry="2.3" fill="none" stroke="#fff" stroke-width="1.15"/><circle cx="171.9" cy="146.8" r="1.15" fill="#fff"/>
<rect x="178.7" y="142.3" width="9.4" height="9" fill="#d3d3d3"/><circle cx="183.4" cy="146.8" r="3.05" fill="none" stroke="#fff" stroke-width="1.5" stroke-dasharray="1.35 1.045"/><circle cx="183.4" cy="146.8" r="2.1" fill="none" stroke="#fff" stroke-width="1.3"/>
<rect x="190.2" y="142.3" width="9.4" height="9" fill="#d3d3d3"/><path d="M192.29999999999998 144.20000000000002L197.5 149.4M197.5 144.20000000000002L192.29999999999998 149.4" stroke="#fff" stroke-width="1.4"/>
<text x="55.4" y="165.0" font-size="12" fill="#cfcfcf" textLength="106.6" lengthAdjust="spacingAndGlyphs" >SAR (0.02, 0.02, 0.2)</text>
<path d="M165.2 160.0h5.6l-2.8 3z" fill="#ddd"/>
<rect x="177.0" y="156.3" width="9.4" height="9" fill="#3aa0e4"/><ellipse cx="181.7" cy="160.8" rx="3.3" ry="2.3" fill="none" stroke="#fff" stroke-width="1.15"/><circle cx="181.7" cy="160.8" r="1.15" fill="#fff"/>
<rect x="188.5" y="156.3" width="9.4" height="9" fill="#d3d3d3"/><circle cx="193.2" cy="160.8" r="3.05" fill="none" stroke="#fff" stroke-width="1.5" stroke-dasharray="1.35 1.045"/><circle cx="193.2" cy="160.8" r="2.1" fill="none" stroke="#fff" stroke-width="1.3"/>
<rect x="200.0" y="156.3" width="9.4" height="9" fill="#d3d3d3"/><path d="M202.1 158.20000000000002L207.3 163.4M207.3 158.20000000000002L202.1 163.4" stroke="#fff" stroke-width="1.4"/>
<text x="55.4" y="178.3" font-size="12" fill="#444" textLength="91.1" lengthAdjust="spacingAndGlyphs" >MA (60, close, 0)</text>
<path d="M149.7 173.29999999999998h5.6l-2.8 3z" fill="#b8b8b8"/>
<rect x="161.5" y="169.6" width="9.4" height="9" fill="#d3d3d3"/><ellipse cx="166.2" cy="174.1" rx="3.3" ry="2.3" fill="none" stroke="#fff" stroke-width="1.15"/><circle cx="166.2" cy="174.1" r="1.15" fill="#fff"/>
<rect x="173.0" y="169.6" width="9.4" height="9" fill="#d3d3d3"/><circle cx="177.7" cy="174.1" r="3.05" fill="none" stroke="#fff" stroke-width="1.5" stroke-dasharray="1.35 1.045"/><circle cx="177.7" cy="174.1" r="2.1" fill="none" stroke="#fff" stroke-width="1.3"/>
<rect x="184.5" y="169.6" width="9.4" height="9" fill="#d3d3d3"/><path d="M186.6 171.5L191.8 176.7M191.8 171.5L186.6 176.7" stroke="#fff" stroke-width="1.4"/>
<text x="55.4" y="191.6" font-size="12" fill="#444" textLength="86.9" lengthAdjust="spacingAndGlyphs" >MA Cross (5, 20)</text>
<path d="M145.5 186.6h5.6l-2.8 3z" fill="#b8b8b8"/>
<rect x="157.3" y="182.9" width="9.4" height="9" fill="#d3d3d3"/><ellipse cx="162.0" cy="187.4" rx="3.3" ry="2.3" fill="none" stroke="#fff" stroke-width="1.15"/><circle cx="162.0" cy="187.4" r="1.15" fill="#fff"/>
<rect x="168.8" y="182.9" width="9.4" height="9" fill="#d3d3d3"/><circle cx="173.5" cy="187.4" r="3.05" fill="none" stroke="#fff" stroke-width="1.5" stroke-dasharray="1.35 1.045"/><circle cx="173.5" cy="187.4" r="2.1" fill="none" stroke="#fff" stroke-width="1.3"/>
<rect x="180.3" y="182.9" width="9.4" height="9" fill="#d3d3d3"/><path d="M182.4 184.8L187.60000000000002 190.0M187.60000000000002 184.8L182.4 190.0" stroke="#fff" stroke-width="1.4"/>
<text x="55.4" y="205.3" font-size="12" fill="#444" textLength="63.0" lengthAdjust="spacingAndGlyphs" >Volume (20)</text>
<path d="M121.60000000000001 200.29999999999998h5.6l-2.8 3z" fill="#b8b8b8"/>
<rect x="133.4" y="196.6" width="9.4" height="9" fill="#d3d3d3"/><ellipse cx="138.1" cy="201.1" rx="3.3" ry="2.3" fill="none" stroke="#fff" stroke-width="1.15"/><circle cx="138.1" cy="201.1" r="1.15" fill="#fff"/>
<rect x="144.9" y="196.6" width="9.4" height="9" fill="#d3d3d3"/><circle cx="149.6" cy="201.1" r="3.05" fill="none" stroke="#fff" stroke-width="1.5" stroke-dasharray="1.35 1.045"/><circle cx="149.6" cy="201.1" r="2.1" fill="none" stroke="#fff" stroke-width="1.3"/>
<rect x="156.4" y="196.6" width="9.4" height="9" fill="#d3d3d3"/><path d="M158.5 198.5L163.70000000000002 203.7M163.70000000000002 198.5L158.5 203.7" stroke="#fff" stroke-width="1.4"/>
<text x="55.4" y="218.7" font-size="12" fill="#444" textLength="50.7" lengthAdjust="spacingAndGlyphs" >BB (20, 2)</text>
<path d="M109.3 213.7h5.6l-2.8 3z" fill="#b8b8b8"/>
<rect x="121.1" y="210.0" width="9.4" height="9" fill="#d3d3d3"/><ellipse cx="125.8" cy="214.5" rx="3.3" ry="2.3" fill="none" stroke="#fff" stroke-width="1.15"/><circle cx="125.8" cy="214.5" r="1.15" fill="#fff"/>
<rect x="132.6" y="210.0" width="9.4" height="9" fill="#d3d3d3"/><circle cx="137.3" cy="214.5" r="3.05" fill="none" stroke="#fff" stroke-width="1.5" stroke-dasharray="1.35 1.045"/><circle cx="137.3" cy="214.5" r="2.1" fill="none" stroke="#fff" stroke-width="1.3"/>
<rect x="144.1" y="210.0" width="9.4" height="9" fill="#d3d3d3"/><path d="M146.2 211.9L151.4 217.1M151.4 211.9L146.2 217.1" stroke="#fff" stroke-width="1.4"/>
<rect x="55.7" y="102" width="6.5" height="7" fill="none" stroke="#999" stroke-width="0.9"/><path d="M57 105.5h4" stroke="#999" stroke-width="0.9"/>
<text x="182.9" y="109.7" font-size="12" fill="#444" textLength="17.2" lengthAdjust="spacingAndGlyphs" >開=</text>
<text x="201.6" y="109.7" font-size="12" fill="#5fa07c" textLength="27.6" lengthAdjust="spacingAndGlyphs" >62.60</text>
<text x="237" y="109.7" font-size="12" fill="#444" textLength="16.8" lengthAdjust="spacingAndGlyphs" >高=</text>
<text x="255.7" y="109.7" font-size="12" fill="#5fa07c" textLength="27.1" lengthAdjust="spacingAndGlyphs" >63.50</text>
<text x="291.2" y="109.7" font-size="12" fill="#444" textLength="17.1" lengthAdjust="spacingAndGlyphs" >低=</text>
<text x="309.8" y="109.7" font-size="12" fill="#5fa07c" textLength="27.0" lengthAdjust="spacingAndGlyphs" >62.10</text>
<text x="345.4" y="109.7" font-size="12" fill="#444" textLength="16.5" lengthAdjust="spacingAndGlyphs" >收=</text>
<text x="363.4" y="109.7" font-size="12" fill="#5fa07c" textLength="27.6" lengthAdjust="spacingAndGlyphs" >62.20</text>
<text x="198.9" y="124.8" font-size="12" fill="#b8610b" textLength="39.4" lengthAdjust="spacingAndGlyphs" >61.8700</text>
<text x="205" y="137.9" font-size="12" fill="#333" textLength="34.5" lengthAdjust="spacingAndGlyphs" >不適用</text>
<text x="205" y="151.0" font-size="12" fill="#f7941d" textLength="39.7" lengthAdjust="spacingAndGlyphs" >57.3117</text>
<text x="199.2" y="178.3" font-size="12" fill="#2d1b7e" textLength="38.9" lengthAdjust="spacingAndGlyphs" >58.9133</text>
<text x="193.8" y="191.6" font-size="12" fill="#8c7cc6" textLength="39.9" lengthAdjust="spacingAndGlyphs" >62.9200</text>
<text x="241" y="191.6" font-size="12" fill="#2460c4" textLength="39.0" lengthAdjust="spacingAndGlyphs" >61.6150</text>
<text x="287.8" y="191.6" font-size="12" fill="#1b1464" textLength="34.5" lengthAdjust="spacingAndGlyphs" >不適用</text>
<text x="170.9" y="205.3" font-size="12" fill="#1fe51f" textLength="34.5" lengthAdjust="spacingAndGlyphs" >4.426K</text>
<text x="211.5" y="205.3" font-size="12" fill="#333" textLength="34.5" lengthAdjust="spacingAndGlyphs" >不適用</text>
<text x="157.9" y="218.7" font-size="12" fill="#1f55c2" textLength="40.1" lengthAdjust="spacingAndGlyphs" >61.6150</text>
<text x="204.6" y="218.7" font-size="12" fill="#1f55c2" textLength="38.9" lengthAdjust="spacingAndGlyphs" >63.7600</text>
<text x="252.2" y="218.7" font-size="12" fill="#1f55c2" textLength="38.8" lengthAdjust="spacingAndGlyphs" >59.4700</text>
<ellipse cx="454" cy="109.6" rx="3.1" ry="2.7" fill="#a040b0"/>
<text x="463.3" y="112.2" font-size="11.5" font-weight="900" fill="#a43db4" textLength="52.3" lengthAdjust="spacingAndGlyphs">盤後數據</text>
</svg>
<svg class="abs" style="left:0;top:0" width="650" height="600" viewBox="0 0 650 600" fill="none" stroke="#5a5e69" stroke-width="1" stroke-linecap="round" stroke-linejoin="round">
<path d="M12 264.5H47M12 425.5H47" stroke="#e3e6ea"/>
<path d="M21.7 80.3H27.5M32 80.3H37.8M29.7 73V78M29.7 82.5V87.5" stroke="#3d9fe9" stroke-width="1.1"/>
<path d="M25.2 108.2L34.3 99.3"/><circle cx="24.2" cy="109.2" r="1.3"/><circle cx="35.3" cy="98.3" r="1.3"/>
<path d="M24.3 125.6L29.2 121.2M24.3 127.3L30.2 132.6M24.3 132.6L33.1 124.7M32 132.6L36.6 128.4"/><circle cx="23.4" cy="126.4" r="1.2"/><circle cx="23.4" cy="133.4" r="1.2"/><circle cx="31.1" cy="133.4" r="1.2"/>
<path d="M22.2 157.4L26.7 151C28.5 149.8 31 150.8 31.5 153C31.8 155.5 30.5 157.5 28.5 157.6ZM32 148C31.8 150 33 151.5 34.5 151L38.8 147.2"/>
<text x="30.2" y="182" font-family="'Liberation Serif',serif" font-size="17" fill="#70747e" stroke="none" text-anchor="middle">T</text>
<path d="M25.8 194.2L23.7 205.3L29.7 199.2ZM33.8 194.2L35.8 203.3L29.7 199.2ZM27.5 197.3L31.8 201.5M32 197.3L27.6 201.5" fill="#f1f2f4"/><circle cx="25.8" cy="194.2" r="1.2" fill="#fff"/><circle cx="33.8" cy="194.2" r="1.2" fill="#fff"/><circle cx="23.6" cy="205.5" r="1.2" fill="#fff"/><circle cx="36" cy="203.5" r="1.2" fill="#fff"/>
<path d="M24 218.3H36.5M24 225.5H35M24 230.5H36.5M29.7 220V229M28.3 221.5L29.7 220L31.1 221.5M28.3 227.5L29.7 229L31.1 227.5"/><circle cx="22.8" cy="218.3" r="1.3" fill="#fff"/><circle cx="22.8" cy="225.5" r="1.3" fill="#fff"/><circle cx="36.3" cy="225.5" r="1.3" fill="#fff"/><circle cx="22.8" cy="230.5" r="1.3" fill="#fff"/>
<path d="M34.3 248.3H26.3M30 243.8L25.3 248.3L30 252.8" stroke="#2f3440" stroke-width="2.6" stroke-linecap="butt" stroke-linejoin="miter"/>
<g transform="rotate(-40 29.4 280.4)"><rect x="21.2" y="277.6" width="16.4" height="5.6" rx="0.6" stroke="#8a8d96"/><path d="M23.7 277.6v2.2M26.5 277.6v2.2M29.3 277.6v2.2M32.1 277.6v2.2M34.9 277.6v2.2" stroke="#8a8d96" stroke-width="0.8"/></g>
<circle cx="28.8" cy="303.3" r="5.5"/><path d="M26.3 303.3H31.3M28.8 300.8V305.8M32.8 307.3L35.2 309.8"/>
<path d="M24.2 343.3V336.3A5.3 5.3 0 0 1 34.8 336.3V343.3H31.3V336.5A1.8 1.8 0 0 0 27.7 336.5V343.3ZM24.2 340.3H27.7M31.3 340.3H34.8"/>
<path d="M22.3 364.5L22.9 361L30.3 353.8L33 356.5L25.7 363.8ZM28.9 355.2L31.6 357.9M24.3 360.5L26.6 362.8" /><rect x="30.6" y="363" width="5.6" height="4.8" rx="0.7" fill="#fff"/><path d="M32 363V361.5A1.5 1.5 0 0 1 35 361.3"/>
<rect x="24.2" y="384" width="10.6" height="7.8" rx="1"/><path d="M26.7 384V381A2.8 2.8 0 0 1 32.3 380.6V381.6"/><circle cx="29.5" cy="388" r="0.8" fill="#5a5e69"/>
<path d="M23 409.6C26 403.6 33.3 403.6 36.3 409.6C33.3 415.6 26 415.6 23 409.6Z"/><circle cx="29.7" cy="409.6" r="2" fill="#2f3440" stroke="none"/>
<path d="M23.3 439.5L29.7 435.3L36 439.5L29.7 443.7ZM23.3 441.8L29.7 446L36 441.8M23.3 444L29.7 448.2L36 444"/>
<path d="M25.6 462.3V470.8A1.7 1.7 0 0 0 27.3 472.5H31.9A1.7 1.7 0 0 0 33.6 470.8V462.3M24.9 461.6H34.3M27 460.3H32.2M27.9 463.8V470.4M29.6 463.8V470.4M31.3 463.8V470.4" stroke="#747882"/>
<rect x="59.2" y="71.7" width="3.4" height="9.3" rx="0.5" stroke="#6a6e78"/><path d="M60.9 70V71.7M60.9 81V83" stroke="#6a6e78"/><rect x="64.8" y="73.5" width="3.2" height="5.5" rx="0.5" stroke="#6a6e78"/><path d="M66.4 71.7V73.5M66.4 79V81" stroke="#6a6e78"/>
<circle cx="89.6" cy="71.2" r="1.3" stroke="#6a6e78"/><path d="M89.6 72.5V75.5M89.6 75.5C87.5 75.8 85.3 77 84.4 79M89.6 75.5C91.7 75.8 93.9 77 94.8 79M81.8 80H87A2.6 2.6 0 0 1 81.8 80ZM92.2 80H97.4A2.6 2.6 0 0 1 92.2 80Z" stroke="#6a6e78"/><circle cx="89.6" cy="75.7" r="0.9" fill="#fff" stroke="#6a6e78"/>
<path d="M141.2 79.3L145.3 74.8L149.6 78.5L154.3 74.2" stroke="#7a7d86"/>
<path d="M483.5 72.7H486L487.3 71.2H491.7L493 72.7H494.8A1 1 0 0 1 495.8 73.7V80.8A1 1 0 0 1 494.8 81.8H483.5A1 1 0 0 1 482.5 80.8V73.7A1 1 0 0 1 483.5 72.7Z" stroke="#7a7d86"/><circle cx="489.1" cy="77.2" r="2.4" stroke="#7a7d86"/>
<path d="M515.8 70.0L517.2 69.7L518.2 71.3L519.3 71.5L520.9 70.4L522.0 71.2L521.6 73.1L522.2 74.0L524.1 74.3L524.4 75.7L522.8 76.7L522.6 77.8L523.7 79.4L522.9 80.5L521.0 80.1L520.1 80.7L519.8 82.6L518.4 82.9L517.4 81.3L516.3 81.1L514.7 82.2L513.6 81.4L514.0 79.5L513.4 78.6L511.5 78.3L511.2 76.9L512.8 75.9L513.0 74.8L511.9 73.2L512.7 72.1L514.6 72.5L515.5 71.9Z" stroke="#6a6e78"/><circle cx="517.8" cy="76.3" r="2" stroke="#6a6e78"/>
<path d="M539 74V71.3H541.7M539 71.3L542.6 74.9M550 74V71.3H547.3M550 71.3L546.4 74.9M539 79.3V82H541.7M539 82L542.6 78.4M550 79.3V82H547.3M550 82L546.4 78.4" stroke="#6a6e78" stroke-linecap="square" stroke-linejoin="miter"/>
<circle cx="543" cy="569.2" r="3.2" stroke="#9a9a9a" stroke-width="1.5" stroke-dasharray="1.4 1.113" stroke-linecap="butt"/><circle cx="543" cy="569.2" r="2.2" stroke="#9a9a9a" stroke-width="1.1"/>
<rect x="44.8" y="520.5" width="4.6" height="17" rx="1.5" fill="#fff" stroke="#d8dce2" stroke-width="0.8"/><path d="M47.8 527.3L46.4 529L47.8 530.7" stroke="#aaa" stroke-width="0.8"/>
</svg>
<div class="abs" style="left:582px;top:0;width:1px;height:584px;background:#c6c6c6"></div><div class="abs" style="left:583px;top:578px;width:3px;height:1px;background:#c4c4c4"></div><div class="abs" style="left:581px;top:15.3px;width:3.4px;height:9.4px;background:#fbab3a;border-radius:0 3px 3px 0"></div><div class="abs" style="left:583px;top:93.5px;width:3px;height:1px;background:#c4c4c4"></div>
<div class="abs" style="left:561.8px;top:0;width:20px;height:40.6px;background:#fbab3a;border-radius:0 0 0 3px"></div>
<div class="abs" style="left:561.8px;top:42.3px;width:20px;height:78.5px;background:#666;border-radius:3px 0 0 3px"></div>
<div class="abs" style="left:561.8px;top:1.8px;font-weight:350;width:20px;text-align:center;color:#fff;font-size:11.6px;line-height:12.15px;white-space:normal;">聊<br>天<br>室</div>
<div class="abs" style="left:561.8px;top:46px;font-weight:350;width:20px;text-align:center;color:#fff;font-size:11.6px;line-height:12.15px;white-space:normal;">玉<br>山<br>證<br>券<br>下<br>單</div>
<svg class="abs" style="left:570px;top:250px" width="80" height="135" viewBox="570 250 80 135"><path d="M609.5 263.7 L580.3 302 L594 302 L594 343 L626 343 L626 302 L638.7 302 Z" fill="#fff" stroke="#000" stroke-width="5" stroke-linejoin="miter"/></svg>
<div class="abs" style="left:588px;top:365px;font-family:'DejaVu Sans',sans-serif;font-size:17px;line-height:22px;color:#000">61.6</div>
<div class="abs" style="left:600px;top:392.3px;font-family:'DejaVu Sans',sans-serif;font-size:17px;line-height:22px;color:#000">60</div>
</div>
</body></html>
